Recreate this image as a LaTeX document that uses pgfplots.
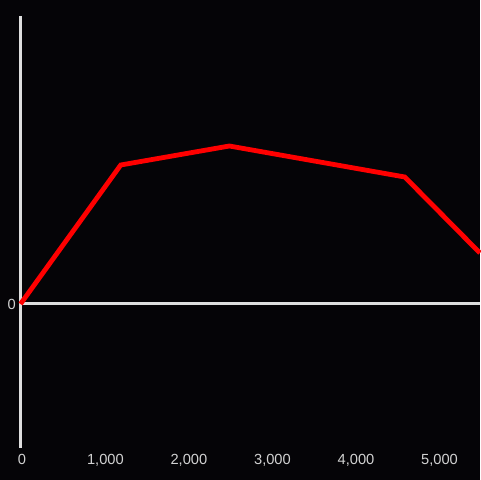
\documentclass[border=0pt]{standalone}
\usepackage{fontspec}
\setmainfont{Liberation Sans}
\usepackage{pgfplots}
\pgfplotsset{compat=1.18}
\definecolor{bg}{HTML}{050407}
\definecolor{axc}{HTML}{DEDEDE}
\definecolor{txt}{HTML}{D2D2D2}
\begin{document}
\begin{tikzpicture}
\fill[bg] (0pt,0pt) rectangle (360pt,360pt);
\useasboundingbox (0pt,0pt) rectangle (360pt,360pt);
\begin{axis}[
  at={(15.375pt,24pt)}, anchor=south west,
  scale only axis, width=344.6pt, height=324pt,
  xmin=0, xmax=5500, ymin=-144, ymax=288,
  clip=false,
  axis line style={draw=none},
  major tick length=0pt,
  xtick={0,1000,2000,3000,4000,5000},
  ytick={0},
  scaled x ticks=false,
  /pgf/number format/assume math mode=true,
  /pgf/number format/1000 sep={,},
  ticklabel style={font=\fontsize{11}{13}\selectfont, text=txt},
  xticklabel style={yshift=-1.5pt, xshift=1pt},
]
\addplot[axc, line width=2.25pt, forget plot] coordinates {(0,-144) (0,288)};
\addplot[axc, line width=2.25pt, forget plot] coordinates {(0,0) (5500,0)};
\addplot[red, line width=3.6pt, line join=miter] coordinates {
  (0,0) (1200,139) (2500,158) (4600,127) (5500,51)
};
\end{axis}
\end{tikzpicture}
\end{document}
